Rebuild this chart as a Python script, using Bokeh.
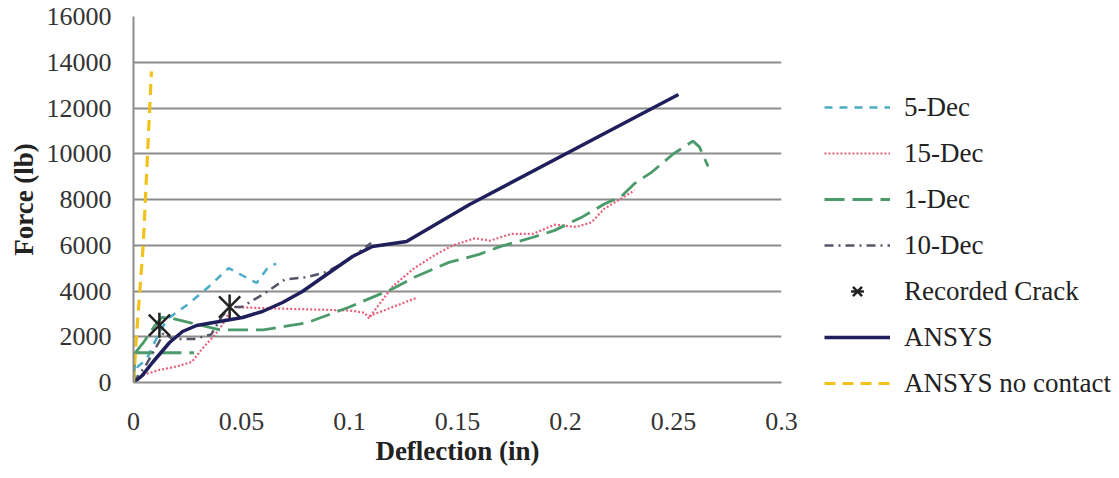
import math
from bokeh.plotting import figure
from bokeh.models import Range1d, FixedTicker, Legend, LegendItem
from bokeh.embed import file_html
from bokeh.resources import INLINE

nan = float("nan")

# ---------------- data ----------------
dec5_x = [0, 0.002, 0.006, 0.012, 0.016, 0.025, 0.035, 0.044, 0.050, 0.057, 0.062, 0.066]
dec5_y = [0, 700, 1000, 2200, 2800, 3400, 4200, 5000, 4700, 4350, 5000, 5200]

dec15_x = [0, 0.005, 0.012, 0.020, 0.027, 0.032, 0.037, 0.041, 0.044, 0.047, 0.060, 0.080, 0.100,
           0.107, 0.109, 0.112, 0.120, 0.130, 0.140, 0.148, 0.158, 0.165, 0.175, 0.185, 0.195,
           0.205, 0.212, 0.218, 0.225, 0.232, nan, 0.109, 0.120, 0.131]
dec15_y = [0, 350, 550, 700, 900, 1500, 2000, 2500, 3000, 3300, 3250, 3200, 3150,
           3050, 2800, 3200, 4200, 5000, 5600, 6000, 6300, 6200, 6500, 6500, 6900,
           6800, 7000, 7600, 8000, 8400, nan, 2900, 3300, 3700]

dec1_x = [0, 0.0008, 0.028, nan, 0.0008, 0.005, 0.010, 0.013, 0.018, 0.029, 0.040, 0.050, 0.060,
          0.070, 0.080, 0.090, 0.100, 0.110, 0.120, 0.130, 0.146, 0.160, 0.170, 0.185, 0.195,
          0.208, 0.218, 0.226, 0.232, 0.240, 0.250, 0.259, 0.262, 0.266]
dec1_y = [0, 1300, 1300, nan, 1300, 1800, 2500, 2850, 2800, 2550, 2300, 2300, 2300,
          2450, 2600, 2950, 3300, 3700, 4100, 4600, 5250, 5600, 5950, 6350, 6650,
          7250, 7800, 8150, 8700, 9200, 10000, 10550, 10300, 9450]

dec10_x = [0, 0.006, 0.012, 0.014, 0.018, 0.028, 0.036, 0.041, 0.045, 0.050, 0.060, 0.070,
           0.080, 0.090, 0.100, 0.110]
dec10_y = [0, 800, 1800, 2200, 1900, 1900, 2100, 2900, 3300, 3300, 3850, 4500,
           4600, 4850, 5400, 6100]

crack_x = [0.012, 0.0445]
crack_y = [2500, 3300]

ansys_x = [0, 0.004, 0.0088, 0.0167, 0.0227, 0.0292, 0.0398, 0.0505, 0.0597, 0.069, 0.0782,
           0.0861, 0.1014, 0.1106, 0.1264, 0.1556, 0.2523]
ansys_y = [0, 300, 874, 1749, 2230, 2492, 2667, 2842, 3104, 3498, 3979,
           4503, 5509, 5946, 6165, 7782, 12591]

nocontact_x = [0, 0.0015, 0.0045, 0.0065, 0.0083]
nocontact_y = [0, 2200, 6000, 10000, 13600]

x_ticks = [0, 0.05, 0.1, 0.15, 0.2, 0.25, 0.3]
x_tick_labels = ["0", "0.05", "0.1", "0.15", "0.2", "0.25", "0.3"]
y_ticks = [0, 2000, 4000, 6000, 8000, 10000, 12000, 14000, 16000]

# ---------------- figure ----------------
FONT = "Liberation Serif"
L, T, FW, FH = 133, 16, 648, 366
B = 94

p = figure(frame_width=FW, frame_height=FH, output_backend="svg", toolbar_location=None,
           x_range=Range1d(0, 0.3), y_range=Range1d(0, 16000),
           min_border_left=L, min_border_top=T,
           min_border_right=0, min_border_bottom=B)
p.outline_line_color = None
p.background_fill_color = "white"
p.border_fill_color = "white"

p.xgrid.grid_line_color = None
p.ygrid.grid_line_color = "#8c8c8c"
p.ygrid.grid_line_width = 2
p.ygrid.ticker = FixedTicker(ticks=y_ticks)

p.xaxis.ticker = FixedTicker(ticks=x_ticks)
p.xaxis.major_label_overrides = {t: s for t, s in zip(x_ticks, x_tick_labels)}
p.yaxis.ticker = FixedTicker(ticks=y_ticks)

for ax in (p.xaxis[0], p.yaxis[0]):
    ax.axis_line_color = "#8c8c8c"
    ax.axis_line_width = 2
    ax.major_tick_line_color = None
    ax.minor_tick_line_color = None
    ax.major_tick_out = 0
    ax.major_tick_in = 0
    ax.minor_tick_out = 0
    ax.major_label_text_font = FONT
    ax.major_label_text_font_size = "26px"
    ax.major_label_text_color = "#333333"
    ax.axis_label_text_font = FONT
    ax.axis_label_text_font_size = "27px"
    ax.axis_label_text_font_style = "bold"
    ax.axis_label_text_color = "#222222"

p.xaxis.axis_label = "Deflection (in)"
p.yaxis.axis_label = "Force (lb)"
p.xaxis.major_label_standoff = 30
p.xaxis.axis_label_standoff = 3
p.yaxis.major_label_standoff = 22
p.yaxis.axis_label_standoff = 5

r5 = p.line(dec5_x, dec5_y, line_color="#4bacc6", line_width=2.5, line_dash="8 7")
r15 = p.line(dec15_x, dec15_y, line_color="#e8607a", line_width=2.2, line_dash="2 2")
r1 = p.line(dec1_x, dec1_y, line_color="#4a9a6a", line_width=2.8, line_dash="20 8")
r10 = p.line(dec10_x, dec10_y, line_color="#55556a", line_width=2.5, line_dash="9 5 2 5")
# Excel-style star: an X plus a vertical stroke
rcx = p.scatter(crack_x, crack_y, marker="x", size=30, line_color="#222222", line_width=2.5)
rcv = p.scatter(crack_x, crack_y, marker="dash", size=25, angle=math.pi / 2,
                line_color="#222222", line_width=2.5)
ra = p.line(ansys_x, ansys_y, line_color="#1f1f5c", line_width=3.5)
rn = p.line(nocontact_x, nocontact_y, line_color="#f2c21a", line_width=3.2, line_dash="11 7")

items = [
    LegendItem(label="5-Dec", renderers=[r5]),
    LegendItem(label="15-Dec", renderers=[r15]),
    LegendItem(label="1-Dec", renderers=[r1]),
    LegendItem(label="10-Dec", renderers=[r10]),
    LegendItem(label="Recorded Crack", renderers=[rcx, rcv]),
    LegendItem(label="ANSYS", renderers=[ra]),
    LegendItem(label="ANSYS no contact", renderers=[rn]),
]
n = len(items)
gh, sp = 32, 14
leg_h = n * gh + (n - 1) * sp
leg_top = 91  # figure coords
legend = Legend(items=items, location=(43, (T + FH) - (leg_top + leg_h)),
                orientation="vertical", glyph_width=66, glyph_height=gh,
                label_height=gh, spacing=sp, label_standoff=14, padding=0, margin=0,
                border_line_color=None, background_fill_alpha=0,
                label_text_font=FONT, label_text_font_size="27px",
                label_text_color="#222222", label_text_baseline="middle")
p.add_layout(legend, "right")

open("out.html", "w").write(file_html(p, INLINE))
